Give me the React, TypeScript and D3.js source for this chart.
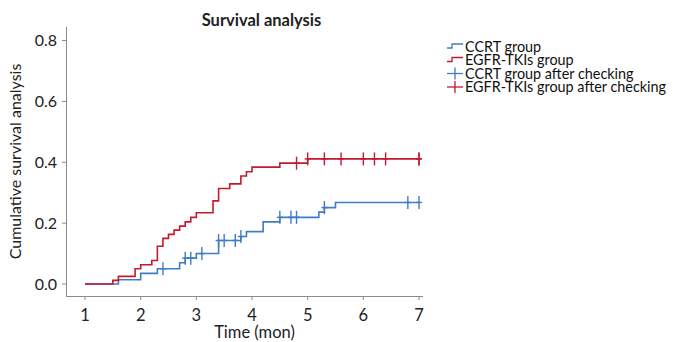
import * as d3 from 'd3';
import React from 'react';

// Step data (time in months, cumulative value)
const ccrtTimes = [1, 1.6, 2.0, 2.3, 2.7, 2.8, 3.0, 3.4, 3.8, 3.9, 4.2, 4.5, 5.2, 5.3, 5.5, 7.0];
const ccrtValues = [0, 0.014, 0.035, 0.05, 0.07, 0.085, 0.1, 0.143, 0.156, 0.172, 0.204, 0.219, 0.236, 0.251, 0.268, 0.268];
const ccrtCensored = [2.4, 2.8, 2.9, 3.1, 3.4, 3.5, 3.7, 3.8, 4.5, 4.7, 4.8, 5.3, 6.8, 7.0];

const egfrTimes = [1, 1.5, 1.6, 1.9, 2.0, 2.2, 2.3, 2.4, 2.5, 2.6, 2.7, 2.8, 2.9, 3.0, 3.3, 3.4, 3.6, 3.8, 3.9, 4.0, 4.5, 5.0, 7.0];
const egfrValues = [0, 0.012, 0.025, 0.05, 0.063, 0.077, 0.124, 0.15, 0.163, 0.177, 0.19, 0.204, 0.219, 0.234, 0.273, 0.314, 0.329, 0.355, 0.369, 0.384, 0.397, 0.411, 0.411];
const egfrCensored = [4.8, 5.0, 5.3, 5.6, 6.0, 6.2, 6.4, 7.0, 7.0];

const xTicks = [1, 2, 3, 4, 5, 6, 7];
const yTicks = [0, 0.2, 0.4, 0.6, 0.8];

const legendLabels = ['CCRT group', 'EGFR-TKIs group', 'CCRT group after checking', 'EGFR-TKIs group after checking'];

const BLUE = '#3f7cc6';
const RED = '#c41a30';
const AXIS = '#8a8a8a';
const FONT = 'Lato, "Open Sans", sans-serif';

const width = 673;
const height = 342;

export default function App() {
    // scales
    const x = d3.scaleLinear().domain([1, 7]).range([85, 419]);
    const y = d3.scaleLinear().domain([0, 0.8]).range([284, 40.5]);

    const line = d3.line<[number, number]>()
        .x(d => x(d[0]))
        .y(d => y(d[1]))
        .curve(d3.curveStepAfter);

    const zip = (t: number[], v: number[]) => t.map((ti, i) => [ti, v[i]] as [number, number]);

    // value of the step curve at time t
    function stepAt(t: number, times: number[], values: number[]) {
        let v = values[0];
        for (let i = 0; i < times.length; i++) {
            if (times[i] <= t + 1e-9) v = values[i];
        }
        return v;
    }

    const series = [
        { times: ccrtTimes, values: ccrtValues, censored: ccrtCensored, color: BLUE },
        { times: egfrTimes, values: egfrValues, censored: egfrCensored, color: RED },
    ];

    return (
        <svg width={width} height={height} style={{ position: 'absolute', left: 0, top: 0 }}>
            <rect width={width} height={height} fill="white" />

            {/* title */}
            <text x={261.5} y={26} textAnchor="middle" fontFamily={FONT} fontSize={16.5} fontWeight={700} fill="#222">
                Survival analysis
            </text>

            {/* axes */}
            <line x1={66.5} x2={66.5} y1={27} y2={297} stroke={AXIS} strokeWidth={1} />
            <line x1={66} x2={423} y1={296.5} y2={296.5} stroke={AXIS} strokeWidth={1} />
            {yTicks.map(t => (
                <g key={'y' + t}>
                    <line x1={62} x2={66.5} y1={y(t)} y2={y(t)} stroke={AXIS} />
                    <text x={57} y={y(t) + 5.5} textAnchor="end" fontFamily={FONT} fontSize={16} fill="#222">
                        {d3.format('.1f')(t)}
                    </text>
                </g>
            ))}
            {xTicks.map(t => (
                <g key={'x' + t}>
                    <line x1={x(t)} x2={x(t)} y1={296.5} y2={300} stroke={AXIS} />
                    <text x={x(t)} y={320.5} textAnchor="middle" fontFamily={FONT} fontSize={16.5} fill="#222">
                        {t}
                    </text>
                </g>
            ))}
            <text x={254.5} y={338} textAnchor="middle" fontFamily={FONT} fontSize={16.5} fill="#222">
                Time (mon)
            </text>
            <text transform="translate(20.5,161.5) rotate(-90)" textAnchor="middle" fontFamily={FONT} fontSize={16} fill="#222">
                Cumulative survival analysis
            </text>

            {/* curves */}
            {series.map((s, i) => (
                <g key={'s' + i}>
                    <path d={line(zip(s.times, s.values)) || ''} fill="none" stroke={s.color} strokeWidth={1.6} />
                    {s.censored.map((c, j) => {
                        const cx = x(c);
                        const cy = y(stepAt(c, s.times, s.values));
                        return (
                            <g key={j} stroke={s.color} strokeWidth={1.4}>
                                <line x1={cx} x2={cx} y1={cy - 6.5} y2={cy + 6.5} />
                                <line x1={cx - 3} x2={cx + 3} y1={cy} y2={cy} />
                            </g>
                        );
                    })}
                </g>
            ))}

            {/* legend */}
            {legendLabels.map((label, i) => {
                const ly = 46.5 + i * 13.5;
                const color = i % 2 === 0 ? BLUE : RED;
                return (
                    <g key={'l' + i}>
                        {i < 2 ? (
                            <path d={`M447,${ly + 1.5}H452V${ly - 2.5}H463`} fill="none" stroke={color} strokeWidth={1.3} />
                        ) : (
                            <g stroke={color} strokeWidth={1.3}>
                                <line x1={447} x2={463} y1={ly} y2={ly} />
                                <line x1={455} x2={455} y1={ly - 6} y2={ly + 6} />
                            </g>
                        )}
                        <text x={465} y={ly + 5} fontFamily={FONT} fontSize={14.4} fill="#111">
                            {label}
                        </text>
                    </g>
                );
            })}
        </svg>
    );
}
